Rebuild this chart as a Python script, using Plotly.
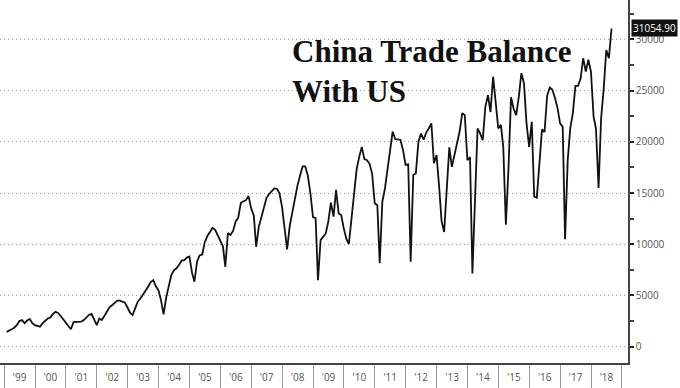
import pandas as pd
import plotly.graph_objects as go

# Monthly China trade balance with US (USD mn), Jan 1999 - Aug 2018
v1999 = [1450, 1550, 1700, 1850, 2100, 2500, 2600, 2300, 2550, 2700, 2300, 2100]
v2000 = [2050, 1950, 2300, 2500, 2750, 2850, 3200, 3400, 3300, 3000, 2700, 2300]
v2001 = [2000, 1700, 2400, 2400, 2450, 2450, 2600, 2900, 3100, 3200, 2600, 2100]
v2002 = [2750, 2600, 3000, 3400, 3850, 4050, 4300, 4500, 4500, 4400, 4300, 3800]
v2003 = [3300, 3100, 3800, 4400, 4700, 5050, 5450, 5850, 6300, 6500, 5900, 5500]
v2004 = [4500, 3150, 4800, 6000, 7000, 7450, 7650, 8000, 8400, 8450, 8700, 8800]
v2005 = [7200, 6350, 8300, 8900, 9000, 10200, 10800, 11200, 11600, 11400, 10900, 10400]
v2006 = [9800, 7800, 11100, 10900, 11300, 12200, 12600, 14050, 14150, 14300, 14700, 13500]
v2007 = [12800, 9750, 11700, 12700, 13800, 14500, 14900, 15200, 15450, 15400, 15000, 13650]
v2008 = [11500, 9500, 11800, 13200, 14600, 15700, 16700, 17600, 17600, 16700, 15000, 12650]
v2009 = [12550, 6500, 10400, 10700, 11050, 12200, 14050, 12700, 15300, 13000, 12850, 11500]
v2010 = [10500, 10000, 12500, 15500, 17300, 18500, 19500, 18300, 18200, 17850, 16900, 14000]
v2011 = [13800, 8150, 14150, 15400, 17200, 19200, 21000, 20250, 20200, 20200, 19200, 17750]
v2012 = [17800, 8300, 16750, 16900, 20000, 20800, 20200, 20900, 21300, 21800, 17900, 18700]
v2013 = [15600, 12300, 11200, 15500, 19450, 17550, 18800, 19850, 21000, 22800, 22600, 18200]
v2014 = [18500, 7150, 15300, 21300, 20800, 20150, 23400, 24550, 22900, 26350, 23900, 21300]
v2015 = [21650, 19500, 11900, 17250, 24350, 23250, 22600, 24400, 26700, 25700, 21800, 19500]
v2016 = [21950, 14650, 14550, 17900, 21200, 20950, 24500, 25300, 25100, 24300, 23300, 21800]
v2017 = [21450, 10500, 18200, 21300, 22800, 25450, 25450, 26200, 28150, 26850, 28000, 26850]
v2018 = [22450, 21300, 15500, 22300, 25200, 28950, 28150, 31054.90]

values = (v1999 + v2000 + v2001 + v2002 + v2003 + v2004 + v2005 + v2006 + v2007 +
          v2008 + v2009 + v2010 + v2011 + v2012 + v2013 + v2014 + v2015 + v2016 +
          v2017 + v2018)
dates = pd.date_range("1999-01-01", periods=len(values), freq="MS") + pd.offsets.MonthEnd(0)

title_lines = ["China Trade Balance", "With US"]
last_label = "31054.90"

x_range = ["1998-11-13", "2019-03-14"]
y_range = [-1590, 33835]

fig = go.Figure()
fig.add_trace(go.Scatter(
    x=dates, y=values, mode="lines",
    line=dict(color="#111111", width=1.8),
    hoverinfo="skip", showlegend=False,
))

tick_font = dict(family="Open Sans, Liberation Sans, sans-serif", size=10, color="#555555")

fig.update_layout(
    width=680, height=388,
    margin=dict(l=0, r=52, t=0, b=25, autoexpand=False),
    paper_bgcolor="white", plot_bgcolor="white",
    xaxis=dict(
        type="date", range=x_range, automargin=False,
        showgrid=False, zeroline=False,
        showline=True, linecolor="#444444", linewidth=1.5,
        tick0="1999-01-01", dtick="M12", tickformat="'%y",
        ticklabelmode="period",
        ticks="outside", ticklen=26, tickcolor="#9a9a9a", tickwidth=1,
        ticklabelstandoff=-22,
        tickfont=tick_font,
    ),
    xaxis2=dict(
        type="date", range=x_range, overlaying="x", matches="x", automargin=False,
        showgrid=True, gridcolor="#9a9a9a", griddash="1px,3px", gridwidth=1,
        tick0="2000-01-01", dtick="M24",
        showticklabels=False, ticks="", zeroline=False, showline=False,
    ),
    yaxis=dict(
        range=y_range, side="right", automargin=False,
        tick0=0, dtick=5000, tickformat="d",
        showgrid=True, gridcolor="#9a9a9a", griddash="1px,3px", gridwidth=1,
        zeroline=False,
        showline=True, linecolor="#444444", linewidth=1.5,
        ticks="outside", ticklen=4, tickcolor="#222222", tickwidth=1.5,
        minor=dict(dtick=2500, ticks="outside", ticklen=4, tickcolor="#444444", showgrid=False),
        tickfont=tick_font,
    ),
)

fig.add_annotation(
    xref="paper", yref="paper", x=290 / 628, y=0.913, xanchor="left", yanchor="top",
    text="<br>".join("<b>%s</b>" % t for t in title_lines), showarrow=False, align="left",
    font=dict(family="Liberation Serif, Times New Roman, serif", size=31, color="#111111"),
)

fig.add_annotation(
    xref="paper", yref="y", x=1, y=values[-1], xanchor="left", yanchor="middle",
    xshift=3, text=last_label, showarrow=False,
    font=dict(family="Open Sans, Liberation Sans, sans-serif", size=10, color="white"),
    bgcolor="#111111", borderpad=1,
)

fig.write_html("out.html", config={"displayModeBar": False},
               post_script="document.body.style.margin='0px';")
